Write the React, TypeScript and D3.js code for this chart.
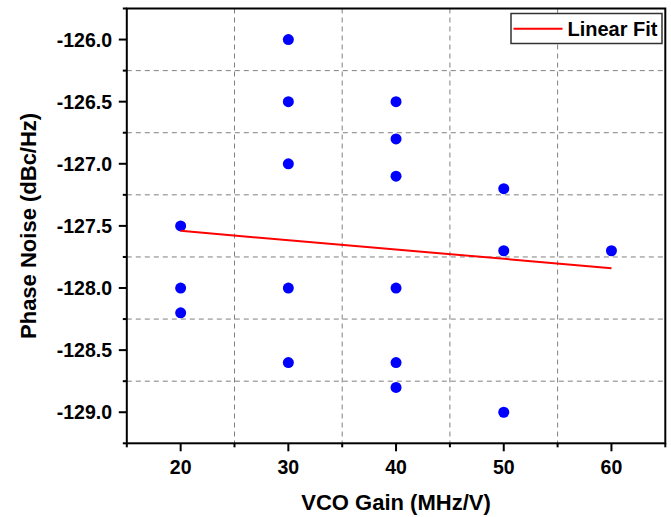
import React from "react";
import * as d3 from "d3";

const gainX: number[] = [20, 20, 20, 30, 30, 30, 30, 30, 40, 40, 40, 40, 40, 40, 50, 50, 50, 60];
const noiseY: number[] = [
  -127.5, -128.0, -128.2,
  -126.0, -126.5, -127.0, -128.0, -128.6,
  -126.5, -126.8, -127.1, -128.0, -128.6, -128.8,
  -127.2, -127.7, -129.0,
  -127.7,
];
const fitX: number[] = [20, 60];
const fitY: number[] = [-127.54, -127.84];
const xMajorTicks: number[] = [20, 30, 40, 50, 60];
const xMinorTicks: number[] = [15, 25, 35, 45, 55, 65];
const yMajorTicks: number[] = [-126.0, -126.5, -127.0, -127.5, -128.0, -128.5, -129.0];
const yMinorTicks: number[] = [-125.75, -126.25, -126.75, -127.25, -127.75, -128.25, -128.75, -129.25];
const xGrid: number[] = [25, 35, 45, 55];
const yGrid: number[] = [-126.25, -126.75, -127.25, -127.75, -128.25, -128.75];
const xTitle = "VCO Gain (MHz/V)";
const yTitle = "Phase Noise (dBc/Hz)";
const legendLabel = "Linear Fit";

const W = 671;
const H = 517;
const FONT = "'Liberation Sans', Arial, Helvetica, sans-serif";

export default function App() {
  const x = d3.scaleLinear().domain([15, 65]).range([126.8, 665.3]);
  const y = d3.scaleLinear().domain([-129.25, -125.75]).range([443.3, 8.5]);
  const [x0, x1] = x.range();
  const [yb, yt] = y.range();
  const line = d3
    .line<number>()
    .x((_, i) => x(fitX[i]))
    .y((d) => y(d));

  return (
    <svg
      width={W}
      height={H}
      style={{ position: "absolute", left: 0, top: 0, background: "#fff" }}
      fontFamily={FONT}
    >
      <rect x={0} y={0} width={W} height={H} fill="#fff" />
      {/* grid */}
      {xGrid.map((v) => (
        <line key={"gx" + v} x1={x(v)} x2={x(v)} y1={yt} y2={yb} stroke="#808080" strokeWidth={1} strokeDasharray="5,4" />
      ))}
      {yGrid.map((v) => (
        <line key={"gy" + v} x1={x0} x2={x1} y1={y(v)} y2={y(v)} stroke="#808080" strokeWidth={1} strokeDasharray="5,4" />
      ))}
      {/* frame */}
      <rect x={x0} y={yt} width={x1 - x0} height={yb - yt} fill="none" stroke="#000" strokeWidth={2} />
      {/* y ticks */}
      {yMajorTicks.map((v) => (
        <g key={"yt" + v}>
          <line x1={x0 - 8} x2={x0} y1={y(v)} y2={y(v)} stroke="#000" strokeWidth={2} />
          <text x={112} y={y(v)} dy="0.36em" textAnchor="end" fontSize={19.5} fontWeight="bold" fill="#000">
            {v.toFixed(1)}
          </text>
        </g>
      ))}
      {yMinorTicks.map((v) => (
        <line key={"ym" + v} x1={x0 - 4} x2={x0} y1={y(v)} y2={y(v)} stroke="#000" strokeWidth={2} />
      ))}
      {/* x ticks */}
      {xMajorTicks.map((v) => (
        <g key={"xt" + v}>
          <line x1={x(v)} x2={x(v)} y1={yb} y2={yb + 8} stroke="#000" strokeWidth={2} />
          <text x={x(v)} y={473.5} textAnchor="middle" fontSize={19.5} fontWeight="bold" fill="#000">
            {v}
          </text>
        </g>
      ))}
      {xMinorTicks.map((v) => (
        <line key={"xm" + v} x1={x(v)} x2={x(v)} y1={yb} y2={yb + 4} stroke="#000" strokeWidth={2} />
      ))}
      {/* axis titles */}
      <text x={(x0 + x1) / 2} y={510} textAnchor="middle" fontSize={22} fontWeight="bold" fill="#000">
        {xTitle}
      </text>
      <text
        transform={`translate(35.5, ${(yt + yb) / 2}) rotate(-90)`}
        textAnchor="middle"
        fontSize={22}
        fontWeight="bold"
        fill="#000"
      >
        {yTitle}
      </text>
      {/* points */}
      {gainX.map((gx, i) => (
        <circle key={"p" + i} cx={x(gx)} cy={y(noiseY[i])} r={5.5} fill="#0000FF" />
      ))}
      {/* fit line */}
      <path d={line(fitY) || ""} fill="none" stroke="#FF0000" strokeWidth={2} />
      {/* legend */}
      <rect x={511} y={13.5} width={151} height={30} fill="#fff" stroke="#333" strokeWidth={1.5} />
      <line x1={513.5} x2={562.5} y1={28.7} y2={28.7} stroke="#FF0000" strokeWidth={2} />
      <text x={567.5} y={35.7} fontSize={20} fontWeight="bold" fill="#000">
        {legendLabel}
      </text>
    </svg>
  );
}
